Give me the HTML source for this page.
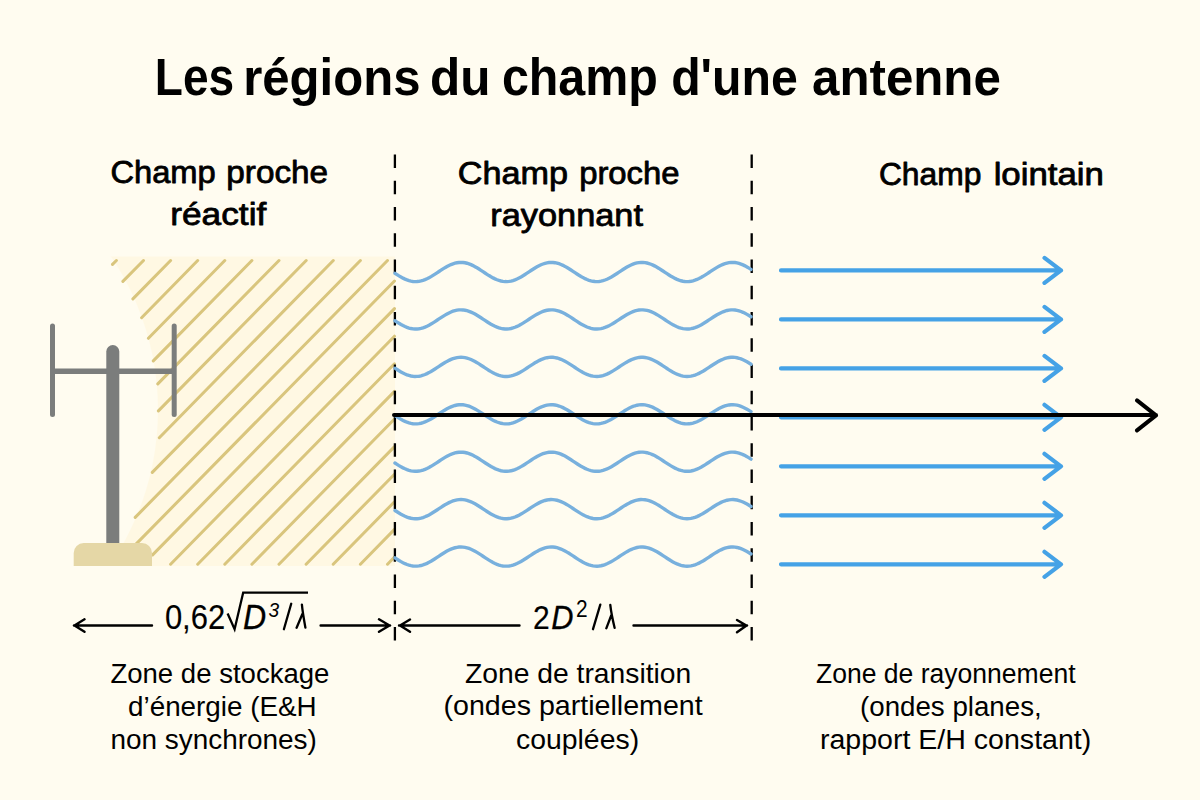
<!DOCTYPE html>
<html><head><meta charset="utf-8"><style>
html,body{margin:0;padding:0;background:#FFFCF0;width:1200px;height:800px;overflow:hidden}
svg{display:block;font-family:"Liberation Sans",sans-serif}
</style></head><body>
<svg width="1200" height="800" viewBox="0 0 1200 800">
<rect width="1200" height="800" fill="#FFFCF0"/>
<defs><mask id="m"><rect width="1200" height="800" fill="#fff"/><circle cx="-116" cy="410" r="274" fill="#000"/></mask></defs>
<rect x="108" y="256.5" width="287" height="309.5" fill="#FFF8E3" mask="url(#m)"/>
<path d="M116.4 260.5L112.5 264.4M143.5 260.5L122.9 281.4M170.6 260.5L132.9 298.9M197.7 260.5L141.6 317.7M224.8 260.5L148.4 338.3M251.9 260.5L153.3 360.9M279.0 260.5L157.8 383.9M306.2 260.5L158.4 410.9M333.3 260.5L159.3 437.7M360.4 260.5L152.3 472.4M387.5 260.5L135.2 517.4M394.5 281.0L133.3 546.9M394.5 308.6L152.6 554.9M394.5 336.2L170.6 564.2M394.5 363.8L197.7 564.2M394.5 391.4L224.8 564.2M394.5 419.0L251.9 564.2M394.5 446.6L279.0 564.2M394.5 474.2L306.1 564.2M394.5 501.8L333.2 564.2M394.5 529.4L360.4 564.2M394.5 557.0L387.5 564.2" stroke="#D9C57D" stroke-width="3" stroke-linecap="round" fill="none"/>
<line x1="394.9" y1="154.5" x2="394.9" y2="641" stroke="#000" stroke-width="2.3" stroke-dasharray="13.5 12.75"/>
<line x1="751.7" y1="154.5" x2="751.7" y2="641" stroke="#000" stroke-width="2.3" stroke-dasharray="13.5 12.75"/>
<path d="M395.0 273.33L397.0 274.63L399.0 275.88L401.0 277.06L403.0 278.14L405.0 279.10L407.0 279.93L409.0 280.60L411.0 281.11L413.0 281.44L415.0 281.59L417.0 281.56L419.0 281.34L421.0 280.94L423.0 280.37L425.0 279.64L427.0 278.76L429.0 277.75L431.0 276.63L433.0 275.42L435.0 274.15L437.0 272.83L439.0 271.50L441.0 270.18L443.0 268.89L445.0 267.66L447.0 266.52L449.0 265.48L451.0 264.57L453.0 263.80L455.0 263.19L457.0 262.75L459.0 262.48L461.0 262.40L463.0 262.50L465.0 262.79L467.0 263.25L469.0 263.89L471.0 264.68L473.0 265.61L475.0 266.66L477.0 267.81L479.0 269.05L481.0 270.34L483.0 271.67L485.0 273.00L487.0 274.31L489.0 275.58L491.0 276.78L493.0 277.88L495.0 278.88L497.0 279.74L499.0 280.45L501.0 281.00L503.0 281.37L505.0 281.57L507.0 281.58L509.0 281.41L511.0 281.06L513.0 280.53L515.0 279.83L517.0 278.99L519.0 278.01L521.0 276.92L523.0 275.73L525.0 274.47L527.0 273.16L529.0 271.83L531.0 270.51L533.0 269.21L535.0 267.96L537.0 266.80L539.0 265.73L541.0 264.78L543.0 263.98L545.0 263.33L547.0 262.84L549.0 262.53L551.0 262.40L553.0 262.46L555.0 262.70L557.0 263.12L559.0 263.71L561.0 264.46L563.0 265.36L565.0 266.38L567.0 267.52L569.0 268.73L571.0 270.01L573.0 271.33L575.0 272.67L577.0 273.99L579.0 275.27L581.0 276.48L583.0 277.62L585.0 278.64L587.0 279.54L589.0 280.29L591.0 280.88L593.0 281.30L595.0 281.54L597.0 281.60L599.0 281.47L601.0 281.16L603.0 280.67L605.0 280.02L607.0 279.22L609.0 278.27L611.0 277.20L613.0 276.04L615.0 274.79L617.0 273.49L619.0 272.17L621.0 270.84L623.0 269.53L625.0 268.27L627.0 267.08L629.0 265.99L631.0 265.01L633.0 264.17L635.0 263.47L637.0 262.94L639.0 262.59L641.0 262.42L643.0 262.43L645.0 262.63L647.0 263.00L649.0 263.55L651.0 264.26L653.0 265.12L655.0 266.12L657.0 267.22L659.0 268.42L661.0 269.69L663.0 271.00L665.0 272.33L667.0 273.66L669.0 274.95L671.0 276.19L673.0 277.34L675.0 278.39L677.0 279.32L679.0 280.11L681.0 280.75L683.0 281.21L685.0 281.50L687.0 281.60L689.0 281.52L691.0 281.25L693.0 280.81L695.0 280.20L697.0 279.43L699.0 278.52L701.0 277.48L703.0 276.34L705.0 275.11L707.0 273.82L709.0 272.50L711.0 271.17L713.0 269.85L715.0 268.58L717.0 267.37L719.0 266.25L721.0 265.24L723.0 264.36L725.0 263.63L727.0 263.06L729.0 262.66L731.0 262.44L733.0 262.41L735.0 262.56L737.0 262.89L739.0 263.40L741.0 264.07L743.0 264.90L745.0 265.86L747.0 266.94L749.0 268.12L751.0 269.37M395.0 320.76L397.0 322.06L399.0 323.31L401.0 324.49L403.0 325.57L405.0 326.53L407.0 327.36L409.0 328.03L411.0 328.54L413.0 328.87L415.0 329.02L417.0 328.99L419.0 328.77L421.0 328.37L423.0 327.80L425.0 327.07L427.0 326.19L429.0 325.18L431.0 324.06L433.0 322.85L435.0 321.58L437.0 320.26L439.0 318.93L441.0 317.61L443.0 316.32L445.0 315.09L447.0 313.95L449.0 312.91L451.0 312.00L453.0 311.23L455.0 310.62L457.0 310.18L459.0 309.91L461.0 309.83L463.0 309.93L465.0 310.22L467.0 310.68L469.0 311.32L471.0 312.11L473.0 313.04L475.0 314.09L477.0 315.24L479.0 316.48L481.0 317.77L483.0 319.10L485.0 320.43L487.0 321.74L489.0 323.01L491.0 324.21L493.0 325.31L495.0 326.31L497.0 327.17L499.0 327.88L501.0 328.43L503.0 328.80L505.0 329.00L507.0 329.01L509.0 328.84L511.0 328.49L513.0 327.96L515.0 327.26L517.0 326.42L519.0 325.44L521.0 324.35L523.0 323.16L525.0 321.90L527.0 320.59L529.0 319.26L531.0 317.94L533.0 316.64L535.0 315.39L537.0 314.23L539.0 313.16L541.0 312.21L543.0 311.41L545.0 310.76L547.0 310.27L549.0 309.96L551.0 309.83L553.0 309.89L555.0 310.13L557.0 310.55L559.0 311.14L561.0 311.89L563.0 312.79L565.0 313.81L567.0 314.95L569.0 316.16L571.0 317.44L573.0 318.76L575.0 320.10L577.0 321.42L579.0 322.70L581.0 323.91L583.0 325.05L585.0 326.07L587.0 326.97L589.0 327.72L591.0 328.31L593.0 328.73L595.0 328.97L597.0 329.03L599.0 328.90L601.0 328.59L603.0 328.10L605.0 327.45L607.0 326.65L609.0 325.70L611.0 324.63L613.0 323.47L615.0 322.22L617.0 320.92L619.0 319.60L621.0 318.27L623.0 316.96L625.0 315.70L627.0 314.51L629.0 313.42L631.0 312.44L633.0 311.60L635.0 310.90L637.0 310.37L639.0 310.02L641.0 309.85L643.0 309.86L645.0 310.06L647.0 310.43L649.0 310.98L651.0 311.69L653.0 312.55L655.0 313.55L657.0 314.65L659.0 315.85L661.0 317.12L663.0 318.43L665.0 319.76L667.0 321.09L669.0 322.38L671.0 323.62L673.0 324.77L675.0 325.82L677.0 326.75L679.0 327.54L681.0 328.18L683.0 328.64L685.0 328.93L687.0 329.03L689.0 328.95L691.0 328.68L693.0 328.24L695.0 327.63L697.0 326.86L699.0 325.95L701.0 324.91L703.0 323.77L705.0 322.54L707.0 321.25L709.0 319.93L711.0 318.60L713.0 317.28L715.0 316.01L717.0 314.80L719.0 313.68L721.0 312.67L723.0 311.79L725.0 311.06L727.0 310.49L729.0 310.09L731.0 309.87L733.0 309.84L735.0 309.99L737.0 310.32L739.0 310.83L741.0 311.50L743.0 312.33L745.0 313.29L747.0 314.37L749.0 315.55L751.0 316.80M395.0 368.19L397.0 369.49L399.0 370.74L401.0 371.92L403.0 373.00L405.0 373.96L407.0 374.79L409.0 375.46L411.0 375.97L413.0 376.30L415.0 376.45L417.0 376.42L419.0 376.20L421.0 375.80L423.0 375.23L425.0 374.50L427.0 373.62L429.0 372.61L431.0 371.49L433.0 370.28L435.0 369.01L437.0 367.69L439.0 366.36L441.0 365.04L443.0 363.75L445.0 362.52L447.0 361.38L449.0 360.34L451.0 359.43L453.0 358.66L455.0 358.05L457.0 357.61L459.0 357.34L461.0 357.26L463.0 357.36L465.0 357.65L467.0 358.11L469.0 358.75L471.0 359.54L473.0 360.47L475.0 361.52L477.0 362.67L479.0 363.91L481.0 365.20L483.0 366.53L485.0 367.86L487.0 369.17L489.0 370.44L491.0 371.64L493.0 372.74L495.0 373.74L497.0 374.60L499.0 375.31L501.0 375.86L503.0 376.23L505.0 376.43L507.0 376.44L509.0 376.27L511.0 375.92L513.0 375.39L515.0 374.69L517.0 373.85L519.0 372.87L521.0 371.78L523.0 370.59L525.0 369.33L527.0 368.02L529.0 366.69L531.0 365.37L533.0 364.07L535.0 362.82L537.0 361.66L539.0 360.59L541.0 359.64L543.0 358.84L545.0 358.19L547.0 357.70L549.0 357.39L551.0 357.26L553.0 357.32L555.0 357.56L557.0 357.98L559.0 358.57L561.0 359.32L563.0 360.22L565.0 361.24L567.0 362.38L569.0 363.59L571.0 364.87L573.0 366.19L575.0 367.53L577.0 368.85L579.0 370.13L581.0 371.34L583.0 372.48L585.0 373.50L587.0 374.40L589.0 375.15L591.0 375.74L593.0 376.16L595.0 376.40L597.0 376.46L599.0 376.33L601.0 376.02L603.0 375.53L605.0 374.88L607.0 374.08L609.0 373.13L611.0 372.06L613.0 370.90L615.0 369.65L617.0 368.35L619.0 367.03L621.0 365.70L623.0 364.39L625.0 363.13L627.0 361.94L629.0 360.85L631.0 359.87L633.0 359.03L635.0 358.33L637.0 357.80L639.0 357.45L641.0 357.28L643.0 357.29L645.0 357.49L647.0 357.86L649.0 358.41L651.0 359.12L653.0 359.98L655.0 360.98L657.0 362.08L659.0 363.28L661.0 364.55L663.0 365.86L665.0 367.19L667.0 368.52L669.0 369.81L671.0 371.05L673.0 372.20L675.0 373.25L677.0 374.18L679.0 374.97L681.0 375.61L683.0 376.07L685.0 376.36L687.0 376.46L689.0 376.38L691.0 376.11L693.0 375.67L695.0 375.06L697.0 374.29L699.0 373.38L701.0 372.34L703.0 371.20L705.0 369.97L707.0 368.68L709.0 367.36L711.0 366.03L713.0 364.71L715.0 363.44L717.0 362.23L719.0 361.11L721.0 360.10L723.0 359.22L725.0 358.49L727.0 357.92L729.0 357.52L731.0 357.30L733.0 357.27L735.0 357.42L737.0 357.75L739.0 358.26L741.0 358.93L743.0 359.76L745.0 360.72L747.0 361.80L749.0 362.98L751.0 364.23M395.0 415.62L397.0 416.92L399.0 418.17L401.0 419.35L403.0 420.43L405.0 421.39L407.0 422.22L409.0 422.89L411.0 423.40L413.0 423.73L415.0 423.88L417.0 423.85L419.0 423.63L421.0 423.23L423.0 422.66L425.0 421.93L427.0 421.05L429.0 420.04L431.0 418.92L433.0 417.71L435.0 416.44L437.0 415.12L439.0 413.79L441.0 412.47L443.0 411.18L445.0 409.95L447.0 408.81L449.0 407.77L451.0 406.86L453.0 406.09L455.0 405.48L457.0 405.04L459.0 404.77L461.0 404.69L463.0 404.79L465.0 405.08L467.0 405.54L469.0 406.18L471.0 406.97L473.0 407.90L475.0 408.95L477.0 410.10L479.0 411.34L481.0 412.63L483.0 413.96L485.0 415.29L487.0 416.60L489.0 417.87L491.0 419.07L493.0 420.17L495.0 421.17L497.0 422.03L499.0 422.74L501.0 423.29L503.0 423.66L505.0 423.86L507.0 423.87L509.0 423.70L511.0 423.35L513.0 422.82L515.0 422.12L517.0 421.28L519.0 420.30L521.0 419.21L523.0 418.02L525.0 416.76L527.0 415.45L529.0 414.12L531.0 412.80L533.0 411.50L535.0 410.25L537.0 409.09L539.0 408.02L541.0 407.07L543.0 406.27L545.0 405.62L547.0 405.13L549.0 404.82L551.0 404.69L553.0 404.75L555.0 404.99L557.0 405.41L559.0 406.00L561.0 406.75L563.0 407.65L565.0 408.67L567.0 409.81L569.0 411.02L571.0 412.30L573.0 413.62L575.0 414.96L577.0 416.28L579.0 417.56L581.0 418.77L583.0 419.91L585.0 420.93L587.0 421.83L589.0 422.58L591.0 423.17L593.0 423.59L595.0 423.83L597.0 423.89L599.0 423.76L601.0 423.45L603.0 422.96L605.0 422.31L607.0 421.51L609.0 420.56L611.0 419.49L613.0 418.33L615.0 417.08L617.0 415.78L619.0 414.46L621.0 413.13L623.0 411.82L625.0 410.56L627.0 409.37L629.0 408.28L631.0 407.30L633.0 406.46L635.0 405.76L637.0 405.23L639.0 404.88L641.0 404.71L643.0 404.72L645.0 404.92L647.0 405.29L649.0 405.84L651.0 406.55L653.0 407.41L655.0 408.41L657.0 409.51L659.0 410.71L661.0 411.98L663.0 413.29L665.0 414.62L667.0 415.95L669.0 417.24L671.0 418.48L673.0 419.63L675.0 420.68L677.0 421.61L679.0 422.40L681.0 423.04L683.0 423.50L685.0 423.79L687.0 423.89L689.0 423.81L691.0 423.54L693.0 423.10L695.0 422.49L697.0 421.72L699.0 420.81L701.0 419.77L703.0 418.63L705.0 417.40L707.0 416.11L709.0 414.79L711.0 413.46L713.0 412.14L715.0 410.87L717.0 409.66L719.0 408.54L721.0 407.53L723.0 406.65L725.0 405.92L727.0 405.35L729.0 404.95L731.0 404.73L733.0 404.70L735.0 404.85L737.0 405.18L739.0 405.69L741.0 406.36L743.0 407.19L745.0 408.15L747.0 409.23L749.0 410.41L751.0 411.66M395.0 463.05L397.0 464.35L399.0 465.60L401.0 466.78L403.0 467.86L405.0 468.82L407.0 469.65L409.0 470.32L411.0 470.83L413.0 471.16L415.0 471.31L417.0 471.28L419.0 471.06L421.0 470.66L423.0 470.09L425.0 469.36L427.0 468.48L429.0 467.47L431.0 466.35L433.0 465.14L435.0 463.87L437.0 462.55L439.0 461.22L441.0 459.90L443.0 458.61L445.0 457.38L447.0 456.24L449.0 455.20L451.0 454.29L453.0 453.52L455.0 452.91L457.0 452.47L459.0 452.20L461.0 452.12L463.0 452.22L465.0 452.51L467.0 452.97L469.0 453.61L471.0 454.40L473.0 455.33L475.0 456.38L477.0 457.53L479.0 458.77L481.0 460.06L483.0 461.39L485.0 462.72L487.0 464.03L489.0 465.30L491.0 466.50L493.0 467.60L495.0 468.60L497.0 469.46L499.0 470.17L501.0 470.72L503.0 471.09L505.0 471.29L507.0 471.30L509.0 471.13L511.0 470.78L513.0 470.25L515.0 469.55L517.0 468.71L519.0 467.73L521.0 466.64L523.0 465.45L525.0 464.19L527.0 462.88L529.0 461.55L531.0 460.23L533.0 458.93L535.0 457.68L537.0 456.52L539.0 455.45L541.0 454.50L543.0 453.70L545.0 453.05L547.0 452.56L549.0 452.25L551.0 452.12L553.0 452.18L555.0 452.42L557.0 452.84L559.0 453.43L561.0 454.18L563.0 455.08L565.0 456.10L567.0 457.24L569.0 458.45L571.0 459.73L573.0 461.05L575.0 462.39L577.0 463.71L579.0 464.99L581.0 466.20L583.0 467.34L585.0 468.36L587.0 469.26L589.0 470.01L591.0 470.60L593.0 471.02L595.0 471.26L597.0 471.32L599.0 471.19L601.0 470.88L603.0 470.39L605.0 469.74L607.0 468.94L609.0 467.99L611.0 466.92L613.0 465.76L615.0 464.51L617.0 463.21L619.0 461.89L621.0 460.56L623.0 459.25L625.0 457.99L627.0 456.80L629.0 455.71L631.0 454.73L633.0 453.89L635.0 453.19L637.0 452.66L639.0 452.31L641.0 452.14L643.0 452.15L645.0 452.35L647.0 452.72L649.0 453.27L651.0 453.98L653.0 454.84L655.0 455.84L657.0 456.94L659.0 458.14L661.0 459.41L663.0 460.72L665.0 462.05L667.0 463.38L669.0 464.67L671.0 465.91L673.0 467.06L675.0 468.11L677.0 469.04L679.0 469.83L681.0 470.47L683.0 470.93L685.0 471.22L687.0 471.32L689.0 471.24L691.0 470.97L693.0 470.53L695.0 469.92L697.0 469.15L699.0 468.24L701.0 467.20L703.0 466.06L705.0 464.83L707.0 463.54L709.0 462.22L711.0 460.89L713.0 459.57L715.0 458.30L717.0 457.09L719.0 455.97L721.0 454.96L723.0 454.08L725.0 453.35L727.0 452.78L729.0 452.38L731.0 452.16L733.0 452.13L735.0 452.28L737.0 452.61L739.0 453.12L741.0 453.79L743.0 454.62L745.0 455.58L747.0 456.66L749.0 457.84L751.0 459.09M395.0 510.48L397.0 511.78L399.0 513.03L401.0 514.21L403.0 515.29L405.0 516.25L407.0 517.08L409.0 517.75L411.0 518.26L413.0 518.59L415.0 518.74L417.0 518.71L419.0 518.49L421.0 518.09L423.0 517.52L425.0 516.79L427.0 515.91L429.0 514.90L431.0 513.78L433.0 512.57L435.0 511.30L437.0 509.98L439.0 508.65L441.0 507.33L443.0 506.04L445.0 504.81L447.0 503.67L449.0 502.63L451.0 501.72L453.0 500.95L455.0 500.34L457.0 499.90L459.0 499.63L461.0 499.55L463.0 499.65L465.0 499.94L467.0 500.40L469.0 501.04L471.0 501.83L473.0 502.76L475.0 503.81L477.0 504.96L479.0 506.20L481.0 507.49L483.0 508.82L485.0 510.15L487.0 511.46L489.0 512.73L491.0 513.93L493.0 515.03L495.0 516.03L497.0 516.89L499.0 517.60L501.0 518.15L503.0 518.52L505.0 518.72L507.0 518.73L509.0 518.56L511.0 518.21L513.0 517.68L515.0 516.98L517.0 516.14L519.0 515.16L521.0 514.07L523.0 512.88L525.0 511.62L527.0 510.31L529.0 508.98L531.0 507.66L533.0 506.36L535.0 505.11L537.0 503.95L539.0 502.88L541.0 501.93L543.0 501.13L545.0 500.48L547.0 499.99L549.0 499.68L551.0 499.55L553.0 499.61L555.0 499.85L557.0 500.27L559.0 500.86L561.0 501.61L563.0 502.51L565.0 503.53L567.0 504.67L569.0 505.88L571.0 507.16L573.0 508.48L575.0 509.82L577.0 511.14L579.0 512.42L581.0 513.63L583.0 514.77L585.0 515.79L587.0 516.69L589.0 517.44L591.0 518.03L593.0 518.45L595.0 518.69L597.0 518.75L599.0 518.62L601.0 518.31L603.0 517.82L605.0 517.17L607.0 516.37L609.0 515.42L611.0 514.35L613.0 513.19L615.0 511.94L617.0 510.64L619.0 509.32L621.0 507.99L623.0 506.68L625.0 505.42L627.0 504.23L629.0 503.14L631.0 502.16L633.0 501.32L635.0 500.62L637.0 500.09L639.0 499.74L641.0 499.57L643.0 499.58L645.0 499.78L647.0 500.15L649.0 500.70L651.0 501.41L653.0 502.27L655.0 503.27L657.0 504.37L659.0 505.57L661.0 506.84L663.0 508.15L665.0 509.48L667.0 510.81L669.0 512.10L671.0 513.34L673.0 514.49L675.0 515.54L677.0 516.47L679.0 517.26L681.0 517.90L683.0 518.36L685.0 518.65L687.0 518.75L689.0 518.67L691.0 518.40L693.0 517.96L695.0 517.35L697.0 516.58L699.0 515.67L701.0 514.63L703.0 513.49L705.0 512.26L707.0 510.97L709.0 509.65L711.0 508.32L713.0 507.00L715.0 505.73L717.0 504.52L719.0 503.40L721.0 502.39L723.0 501.51L725.0 500.78L727.0 500.21L729.0 499.81L731.0 499.59L733.0 499.56L735.0 499.71L737.0 500.04L739.0 500.55L741.0 501.22L743.0 502.05L745.0 503.01L747.0 504.09L749.0 505.27L751.0 506.52M395.0 557.91L397.0 559.21L399.0 560.46L401.0 561.64L403.0 562.72L405.0 563.68L407.0 564.51L409.0 565.18L411.0 565.69L413.0 566.02L415.0 566.17L417.0 566.14L419.0 565.92L421.0 565.52L423.0 564.95L425.0 564.22L427.0 563.34L429.0 562.33L431.0 561.21L433.0 560.00L435.0 558.73L437.0 557.41L439.0 556.08L441.0 554.76L443.0 553.47L445.0 552.24L447.0 551.10L449.0 550.06L451.0 549.15L453.0 548.38L455.0 547.77L457.0 547.33L459.0 547.06L461.0 546.98L463.0 547.08L465.0 547.37L467.0 547.83L469.0 548.47L471.0 549.26L473.0 550.19L475.0 551.24L477.0 552.39L479.0 553.63L481.0 554.92L483.0 556.25L485.0 557.58L487.0 558.89L489.0 560.16L491.0 561.36L493.0 562.46L495.0 563.46L497.0 564.32L499.0 565.03L501.0 565.58L503.0 565.95L505.0 566.15L507.0 566.16L509.0 565.99L511.0 565.64L513.0 565.11L515.0 564.41L517.0 563.57L519.0 562.59L521.0 561.50L523.0 560.31L525.0 559.05L527.0 557.74L529.0 556.41L531.0 555.09L533.0 553.79L535.0 552.54L537.0 551.38L539.0 550.31L541.0 549.36L543.0 548.56L545.0 547.91L547.0 547.42L549.0 547.11L551.0 546.98L553.0 547.04L555.0 547.28L557.0 547.70L559.0 548.29L561.0 549.04L563.0 549.94L565.0 550.96L567.0 552.10L569.0 553.31L571.0 554.59L573.0 555.91L575.0 557.25L577.0 558.57L579.0 559.85L581.0 561.06L583.0 562.20L585.0 563.22L587.0 564.12L589.0 564.87L591.0 565.46L593.0 565.88L595.0 566.12L597.0 566.18L599.0 566.05L601.0 565.74L603.0 565.25L605.0 564.60L607.0 563.80L609.0 562.85L611.0 561.78L613.0 560.62L615.0 559.37L617.0 558.07L619.0 556.75L621.0 555.42L623.0 554.11L625.0 552.85L627.0 551.66L629.0 550.57L631.0 549.59L633.0 548.75L635.0 548.05L637.0 547.52L639.0 547.17L641.0 547.00L643.0 547.01L645.0 547.21L647.0 547.58L649.0 548.13L651.0 548.84L653.0 549.70L655.0 550.70L657.0 551.80L659.0 553.00L661.0 554.27L663.0 555.58L665.0 556.91L667.0 558.24L669.0 559.53L671.0 560.77L673.0 561.92L675.0 562.97L677.0 563.90L679.0 564.69L681.0 565.33L683.0 565.79L685.0 566.08L687.0 566.18L689.0 566.10L691.0 565.83L693.0 565.39L695.0 564.78L697.0 564.01L699.0 563.10L701.0 562.06L703.0 560.92L705.0 559.69L707.0 558.40L709.0 557.08L711.0 555.75L713.0 554.43L715.0 553.16L717.0 551.95L719.0 550.83L721.0 549.82L723.0 548.94L725.0 548.21L727.0 547.64L729.0 547.24L731.0 547.02L733.0 546.99L735.0 547.14L737.0 547.47L739.0 547.98L741.0 548.65L743.0 549.48L745.0 550.44L747.0 551.52L749.0 552.70L751.0 553.95" stroke="#78B0DD" stroke-width="3.4" fill="none" stroke-linecap="round"/>
<path d="M781 270.4L1061 270.4M1044.5 257.9L1061 270.4L1044.5 282.9M781 319.4L1061 319.4M1044.5 306.9L1061 319.4L1044.5 331.9M781 368.4L1061 368.4M1044.5 355.9L1061 368.4L1044.5 380.9M781 417.3L1061 417.3M1044.5 404.8L1061 417.3L1044.5 429.8M781 466.3L1061 466.3M1044.5 453.8L1061 466.3L1044.5 478.8M781 515.3L1061 515.3M1044.5 502.8L1061 515.3L1044.5 527.8M781 564.3L1061 564.3M1044.5 551.8L1061 564.3L1044.5 576.8" stroke="#45A2E6" stroke-width="4.2" fill="none" stroke-linecap="round" stroke-linejoin="round"/>
<path d="M394 415L1156 415M1137 400.4L1156 415.4L1137 430.4" stroke="#000" stroke-width="4" fill="none" stroke-linecap="round" stroke-linejoin="round"/>
<g fill="#7B7D7C"><rect x="50" y="323.5" width="5" height="93.5" rx="2.5"/><rect x="171.7" y="323.5" width="5" height="93.5" rx="2.5"/><rect x="52" y="368.5" width="122" height="5.5"/><rect x="106.3" y="345" width="13" height="205" rx="6.5"/></g>
<path d="M73.7 566V553a10 10 0 0 1 10 -10H142a10 10 0 0 1 10 10V566Z" fill="#E5D7A6"/>
<path d="M74 625.5L152 625.5M84.5 619.3L74.5 625.5L84.5 631.8M320.6 625.5L390 625.5M379 619.3L389.5 625.5L379 631.8M399 625.5L519.5 625.5M410 619.5L400 625.5L410 631.8M633.5 625.5L747 625.5M737 620L746.5 625.6L737 632.3" stroke="#000" stroke-width="2.4" fill="none" stroke-linecap="round" stroke-linejoin="miter"/>
<path d="M227.6 613.5L234.6 629.2L243.2 592.6L308 592.6" stroke="#000" stroke-width="2.3" stroke-linejoin="miter" fill="none"/>
<path d="M291.2 603.8L283.9 629.2M301.9 604.6Q302.6 612 305.4 627.6M302.4 614L296.6 627.8M600.3 604.6L593 629.2M610.3 605Q611.3 614 614.6 627.8M611.2 615.5L606.3 628.3" stroke="#000" stroke-width="2.3" stroke-linecap="round" fill="none"/>
<text transform="translate(154.84 94.5) scale(0.8856 1)" font-size="52" font-weight="bold" fill="#000">Les</text>
<text transform="translate(243.17 94.5) scale(0.9445 1)" font-size="52" font-weight="bold" fill="#000">régions</text>
<text transform="translate(430.09 94.5) scale(0.9530 1)" font-size="52" font-weight="bold" fill="#000">du</text>
<text transform="translate(501.89 94.5) scale(0.9308 1)" font-size="52" font-weight="bold" fill="#000">champ</text>
<text transform="translate(671.14 94.5) scale(0.9278 1)" font-size="52" font-weight="bold" fill="#000">d'une</text>
<text transform="translate(812.05 94.5) scale(0.9471 1)" font-size="52" font-weight="bold" fill="#000">antenne</text>
<text transform="translate(110.38 183) scale(1.0374 1)" font-size="31.5" fill="#000" stroke="#000" stroke-width="0.8" stroke-linejoin="round">Champ</text>
<text transform="translate(226.31 183) scale(1.0571 1)" font-size="31.5" fill="#000" stroke="#000" stroke-width="0.8" stroke-linejoin="round">proche</text>
<text transform="translate(170.21 225) scale(1.1199 1)" font-size="31.5" fill="#000" stroke="#000" stroke-width="0.8" stroke-linejoin="round">réactif</text>
<text transform="translate(457.75 184) scale(1.0850 1)" font-size="31.5" fill="#000" stroke="#000" stroke-width="0.8" stroke-linejoin="round">Champ</text>
<text transform="translate(579.13 184) scale(1.0423 1)" font-size="31.5" fill="#000" stroke="#000" stroke-width="0.8" stroke-linejoin="round">proche</text>
<text transform="translate(490.26 225.8) scale(1.0902 1)" font-size="31.5" fill="#000" stroke="#000" stroke-width="0.8" stroke-linejoin="round">rayonnant</text>
<text transform="translate(878.89 184.5) scale(1.0097 1)" font-size="31.5" fill="#000" stroke="#000" stroke-width="0.8" stroke-linejoin="round">Champ</text>
<text transform="translate(993.63 184.5) scale(1.1050 1)" font-size="31.5" fill="#000" stroke="#000" stroke-width="0.8" stroke-linejoin="round">lointain</text>
<text transform="translate(110.40 683.3) scale(0.9846 1)" font-size="28" fill="#000">Zone de stockage</text>
<text transform="translate(128.01 716.25) scale(0.9944 1)" font-size="28" fill="#000">d’énergie (E&amp;H</text>
<text transform="translate(110.50 749) scale(0.9972 1)" font-size="28" fill="#000">non synchrones)</text>
<text transform="translate(465.00 682.6) scale(1.0100 1)" font-size="28" fill="#000">Zone de transition</text>
<text transform="translate(443.48 715.2) scale(1.0221 1)" font-size="28" fill="#000">(ondes partiellement</text>
<text transform="translate(515.99 749) scale(1.0144 1)" font-size="28" fill="#000">couplées)</text>
<text transform="translate(816.00 682.5) scale(0.9483 1)" font-size="28" fill="#000">Zone de rayonnement</text>
<text transform="translate(860.01 715.5) scale(0.9895 1)" font-size="28" fill="#000">(ondes planes,</text>
<text transform="translate(819.98 748.75) scale(1.0197 1)" font-size="28" fill="#000">rapport E/H constant)</text>
<text transform="translate(164.88 629) scale(0.8860 1)" font-size="35" fill="#000" stroke="#000" stroke-width="0.15" stroke-linejoin="round">0,62</text>
<text transform="translate(242.92 629) scale(0.9177 1)" font-size="35" font-style="italic" fill="#000" stroke="#000" stroke-width="0.3" stroke-linejoin="round">D</text>
<text transform="translate(268.50 617) scale(0.9545 1)" font-size="20" font-style="italic" fill="#000">3</text>
<text transform="translate(532.96 628.6) scale(0.9102 1)" font-size="33" fill="#000" stroke="#000" stroke-width="0.15" stroke-linejoin="round">2</text>
<text transform="translate(551.21 628.6) scale(0.9327 1)" font-size="33" font-style="italic" fill="#000" stroke="#000" stroke-width="0.3" stroke-linejoin="round">D</text>
<text transform="translate(576.09 617) scale(0.9091 1)" font-size="23" fill="#000">2</text>
</svg>
</body></html>
